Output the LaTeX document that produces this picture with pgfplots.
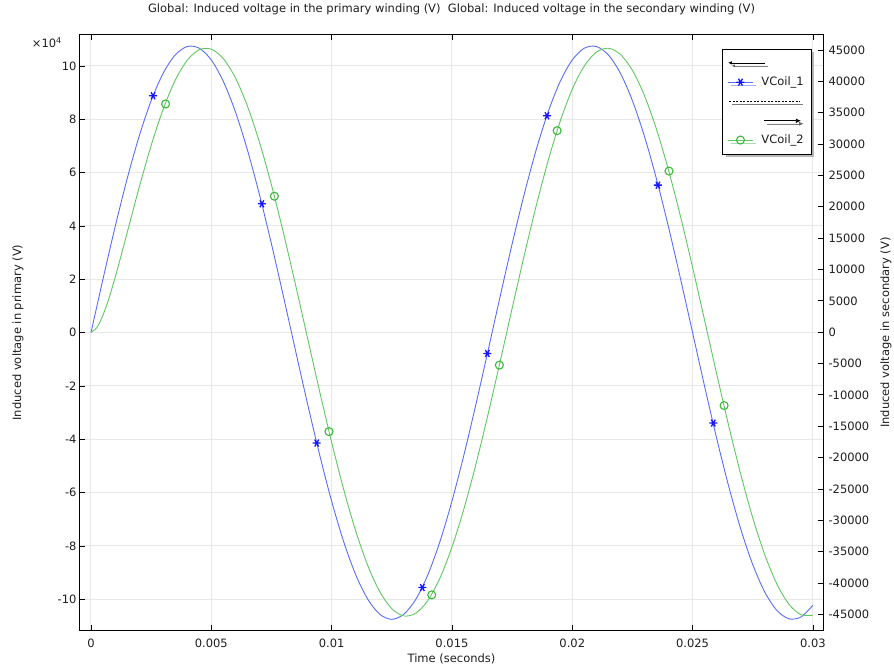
\documentclass[border=0pt]{standalone}
\usepackage{fontspec}
\setmainfont{DejaVu Sans}
\usepackage{pgfplots}
\pgfplotsset{compat=1.18}
\usetikzlibrary{shadows,arrows.meta}
\definecolor{bline}{RGB}{90,110,245}
\definecolor{bmark}{RGB}{20,20,255}
\definecolor{gline}{RGB}{95,200,95}
\definecolor{gmark}{RGB}{60,185,60}
\definecolor{gridc}{RGB}{232,232,232}
\definecolor{txt}{RGB}{30,30,30}
\begin{document}
\begin{tikzpicture}[font=\fontsize{11.5}{13.8}\selectfont, text=txt]
\useasboundingbox (-80pt,-40pt) rectangle (814pt,630pt);
\begin{axis}[
  name=main,
  at={(0pt,0pt)}, anchor=south west,
  scale only axis, width=743pt, height=595pt,
  xmin=-0.000457, xmax=0.03042,
  ymin=-11.15, ymax=11.16,
  xtick={0,0.005,0.01,0.015,0.02,0.025,0.03},
  ytick={-10,-8,-6,-4,-2,0,2,4,6,8,10},
  scaled x ticks=false, scaled y ticks=false,
  xticklabel style={/pgf/number format/fixed, /pgf/number format/precision=3, yshift=-5pt},
  /pgf/number format/assume math mode=true,
  tick align=inside,
  xtick pos=both, ytick pos=left,
  major tick length=5pt,
  tick style={black, line width=0.8pt},
  grid=major, grid style={gridc, line width=1pt},
  axis line style={black, line width=1pt},
  title={Global: Induced voltage in the primary winding (V)\ \ Global: Induced voltage in the secondary winding (V)},
  title style={yshift=11pt},
  xlabel={Time (seconds)},
  every axis x label/.style={at={(axis description cs:0.5,0)}, yshift=-29pt, anchor=center},
  ylabel={Induced voltage in primary (V)},
  every axis y label/.style={at={(axis description cs:-0.0834,0.5)}, anchor=center, rotate=90},
]
\addplot[bline, line width=0.9pt, smooth] coordinates {
(0,0) (0.0005,2.014) (0.001,3.957) (0.0015,5.760) (0.002,7.359) (0.0025,8.697)
(0.003,9.727) (0.0035,10.412) (0.004,10.729) (0.0045,10.665) (0.005,10.224)
(0.0055,9.420) (0.006,8.283) (0.0065,6.852) (0.007,5.179) (0.0075,3.322)
(0.008,1.347) (0.0085,-0.675) (0.009,-2.673) (0.0095,-4.577) (0.01,-6.319)
(0.0105,-7.836) (0.011,-9.077) (0.0115,-9.995) (0.012,-10.560) (0.0125,-10.75)
(0.013,-10.560) (0.0135,-9.995) (0.014,-9.077) (0.0145,-7.836) (0.015,-6.319)
(0.0155,-4.577) (0.016,-2.673) (0.0165,-0.675) (0.017,1.347) (0.0175,3.322)
(0.018,5.179) (0.0185,6.852) (0.019,8.283) (0.0195,9.420) (0.02,10.224)
(0.0205,10.665) (0.021,10.729) (0.0215,10.412) (0.022,9.727) (0.0225,8.697)
(0.023,7.359) (0.0235,5.760) (0.024,3.957) (0.0245,2.014) (0.025,0)
(0.0255,-2.014) (0.026,-3.957) (0.0265,-5.760) (0.027,-7.359) (0.0275,-8.697)
(0.028,-9.727) (0.0285,-10.412) (0.029,-10.729) (0.0295,-10.665) (0.03,-10.224)
};
\addplot[only marks, mark=asterisk, mark size=4pt, mark options={bmark, rotate=90, line width=1.3pt}] coordinates {
(0.00258,8.88) (0.00710,4.83) (0.00938,-4.14) (0.01377,-9.56)
(0.01647,-0.78) (0.01895,8.13) (0.02356,5.53) (0.02586,-3.39)
};
\end{axis}
\node[anchor=north east, inner sep=0pt] at ([xshift=-18pt,yshift=-2pt]main.north west) {×10\textsuperscript{4}};
\begin{axis}[
  at={(0pt,0pt)}, anchor=south west,
  scale only axis, width=743pt, height=595pt,
  xmin=-0.000457, xmax=0.03042,
  ymin=-47500, ymax=47400,
  axis x line=none, axis y line*=right,
  ytick={-45000,-40000,-35000,-30000,-25000,-20000,-15000,-10000,-5000,0,5000,10000,15000,20000,25000,30000,35000,40000,45000},
  scaled y ticks=false,
  yticklabel style={/pgf/number format/fixed, /pgf/number format/1000 sep={}, xshift=2pt},
  /pgf/number format/assume math mode=true,
  tick align=inside,
  major tick length=5pt,
  tick style={black, line width=0.8pt},
  axis line style={black, line width=1pt},
  ylabel={Induced voltage in secondary (V)},
  every axis y label/.style={at={(axis description cs:1.0848,0.5)}, anchor=center, rotate=90},
  legend image code/.code={\draw[mark repeat=2,mark phase=2] plot coordinates {(0pt,0pt) (12.5pt,0pt) (25pt,0pt)};},
  legend style={at={(1,1)}, anchor=north east, xshift=-12pt, yshift=-14pt,
    draw=black, fill=white, drop shadow={shadow xshift=3pt, shadow yshift=-3pt, fill=black!55},
    inner xsep=5pt, inner ysep=4pt, row sep=0pt, column sep=6pt,
    nodes={inner sep=2pt, text height=10.8pt, text depth=4.5pt},
    font=\fontsize{11.5}{13.8}\selectfont},
  legend cell align=left,
]
\addlegendimage{legend image code/.code={\draw[overlay, black, line width=0.7pt, -{Latex[length=4pt,width=3.5pt]}] (37pt,0pt) -- (0pt,0pt);}}
\addlegendentry{}
\addlegendimage{bline, line width=0.9pt, mark=asterisk, mark size=4pt, mark options={bmark, rotate=90, line width=1.3pt}}
\addlegendentry{VCoil\_1}
\addlegendimage{legend image code/.code={\draw[overlay, black, line width=0.6pt, dash pattern=on 2pt off 1.5pt] (1.5pt,0pt) -- (72.5pt,0pt);}}
\addlegendentry{}
\addlegendimage{legend image code/.code={\draw[overlay, black, line width=0.7pt, -{Latex[length=5pt,width=4.5pt]}] (36pt,0pt) -- (73pt,0pt);}}
\addlegendentry{}
\addlegendimage{gline, line width=0.9pt, mark=o, mark size=4pt, mark options={gmark, line width=1.1pt}}
\addlegendentry{VCoil\_2}
\addplot[gline, line width=0.9pt, smooth, forget plot] coordinates {
(0,0) (0.00025,772) (0.0005,2733) (0.00075,5469) (0.001,8689) (0.00125,12191)
(0.0015,15826) (0.00175,19478) (0.002,23065) (0.0025,29786) (0.003,35584)
(0.0035,40182) (0.004,43384) (0.0045,45059) (0.005,45141) (0.0055,43631)
(0.006,40576) (0.0065,36083) (0.007,30312) (0.0075,23467) (0.008,15790)
(0.0085,7555) (0.009,-949) (0.0095,-9418) (0.01,-17555) (0.0105,-25069)
(0.011,-31695) (0.0115,-37198) (0.012,-41384) (0.0125,-44103) (0.013,-45260)
(0.0135,-44814) (0.014,-42780) (0.0145,-39231) (0.015,-34292) (0.0155,-28138)
(0.016,-20987) (0.0165,-13093) (0.017,-4735) (0.0175,3791) (0.018,12182)
(0.0185,20142) (0.019,27388) (0.0195,33664) (0.02,38748) (0.0205,42459)
(0.021,44666) (0.0215,45290) (0.022,44310) (0.0225,41760) (0.023,37731)
(0.0235,32365) (0.024,25853) (0.0245,18425) (0.025,10344) (0.0255,1897)
(0.026,-6617) (0.0265,-14898) (0.027,-22650) (0.0275,-29600) (0.028,-35501)
(0.0285,-40145) (0.029,-43367) (0.0295,-45052) (0.03,-45141)
};
\addplot[only marks, mark=o, mark size=4pt, mark options={gmark, line width=1.1pt}, forget plot] coordinates {
(0.0031,36400) (0.00762,21690) (0.00989,-15850) (0.01416,-41900)
(0.01697,-5250) (0.01937,32140) (0.02402,25700) (0.02631,-11700)
};
\end{axis}
\end{tikzpicture}
\end{document}
